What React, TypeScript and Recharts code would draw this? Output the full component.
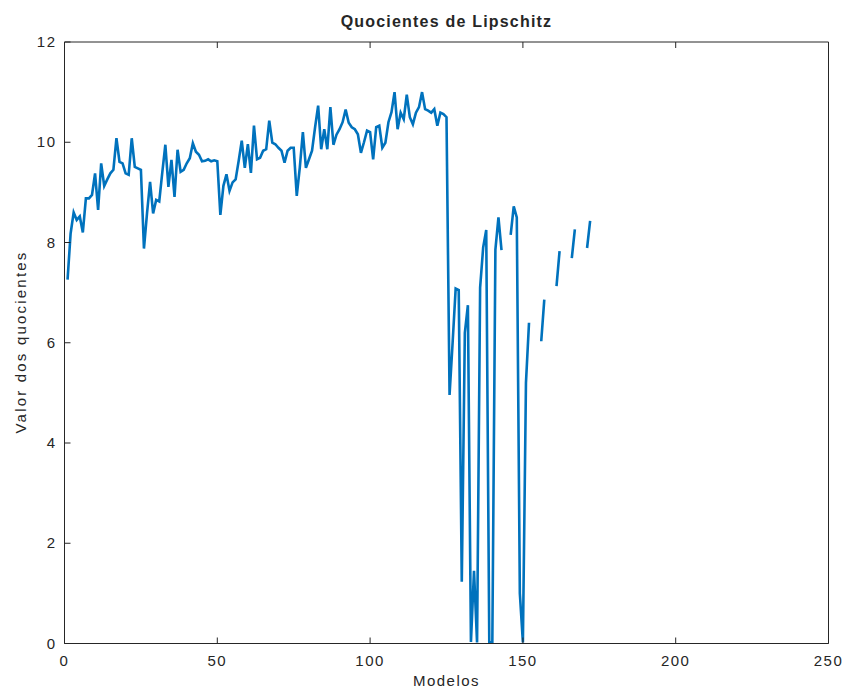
import { Line, LineChart, XAxis, YAxis } from "recharts";

// Lipschitz quotient per model (null = quotient not defined for that model)
const quotients: (number | null)[] = [
  7.26, 8.18, 8.6, 8.45, 8.52, 8.2, 8.88, 8.88, 8.95, 9.38,
  8.65, 9.58, 9.13, 9.26, 9.38, 9.45, 10.08, 9.61, 9.58, 9.38,
  9.35, 10.08, 9.51, 9.48, 9.45, 7.88, 8.58, 9.21, 8.58, 8.85,
  8.82, 9.4, 9.95, 9.11, 9.65, 8.91, 9.85, 9.41, 9.45, 9.58,
  9.68, 9.98, 9.81, 9.75, 9.62, 9.63, 9.66, 9.62, 9.64, 9.62,
  8.55, 9.13, 9.36, 9.03, 9.2, 9.26, 9.63, 10.03, 9.49, 9.96,
  9.39, 10.33, 9.66, 9.69, 9.83, 9.86, 10.43, 9.99, 9.96, 9.89,
  9.83, 9.59, 9.83, 9.89, 9.89, 8.93, 9.5, 10.2, 9.49, 9.66,
  9.83, 10.3, 10.73, 9.86, 10.26, 9.86, 10.7, 9.95, 10.15, 10.26,
  10.4, 10.65, 10.39, 10.3, 10.26, 10.16, 9.79, 10.0, 10.23, 10.2,
  9.66, 10.3, 10.33, 9.89, 9.99, 10.4, 10.6, 11.0, 10.26, 10.59,
  10.46, 10.95, 10.5, 10.36, 10.59, 10.7, 11.0, 10.66, 10.63, 10.59,
  10.66, 10.33, 10.59, 10.56, 10.5, 4.96, 6.0, 7.08, 7.05, 1.23,
  6.2, 6.75, 0.03, 1.45, 0.02, 7.1, 7.9, 8.25, 0.02, 0.03,
  7.86, 8.5, 7.85, null, null, 8.15, 8.72, 8.5, 1.0, 0.02,
  5.2, 6.4, null, null, null, 6.03, 6.86, null, null, null,
  7.13, 7.83, null, null, null, 7.69, 8.26, null, null, null,
  7.89, 8.43,
];

const xTicks = [0, 50, 100, 150, 200, 250];
const yTicks = [0, 2, 4, 6, 8, 10, 12];

const data = quotients.map((q, i) => ({ model: i + 1, q }));

const INK = "#262626";
const BLUE = "#0072BD";
const TICK = 6;
const FONT = "'Liberation Sans', Arial, Helvetica, sans-serif";

const labelStyle = {
  fontFamily: FONT,
  fontSize: 15,
  letterSpacing: 1.5,
  fill: INK,
};

// tickSize/tickMargin are 0, so x/y land exactly on the axis line
const BottomTick = ({ x, y, payload }: any) => (
  <g>
    <line x1={x} x2={x} y1={y} y2={y - TICK} stroke={INK} />
    <text x={x} y={y + 22} textAnchor="middle" style={labelStyle}>
      {payload.value}
    </text>
  </g>
);

const LeftTick = ({ x, y, payload }: any) => (
  <g>
    <line x1={x} x2={x + TICK} y1={y} y2={y} stroke={INK} />
    <text x={x - 8} y={y + 5} textAnchor="end" style={labelStyle}>
      {payload.value}
    </text>
  </g>
);

const TopTick = ({ x, y }: any) => (
  <line x1={x} x2={x} y1={y} y2={y + TICK} stroke={INK} />
);

const RightTick = ({ x, y }: any) => (
  <line x1={x} x2={x - TICK} y1={y} y2={y} stroke={INK} />
);

export default function App() {
  return (
    <div
      style={{
        position: "absolute",
        left: 0,
        top: 0,
        width: 844,
        height: 690,
        background: "#fff",
        fontFamily: FONT,
        color: INK,
      }}
    >
      <div
        style={{
          position: "absolute",
          top: 13,
          left: 64,
          width: 765,
          textAlign: "center",
          fontWeight: "bold",
          fontSize: 16,
          letterSpacing: 1.2,
        }}
      >
        Quocientes de Lipschitz
      </div>
      <div
        style={{
          position: "absolute",
          top: 672,
          left: 64,
          width: 765,
          textAlign: "center",
          fontSize: 15,
          letterSpacing: 1.5,
        }}
      >
        Modelos
      </div>
      <div
        style={{
          position: "absolute",
          left: 20,
          top: 342,
          transform: "translate(-50%, -50%) rotate(-90deg)",
          whiteSpace: "nowrap",
          fontSize: 15,
          letterSpacing: 2.2,
        }}
      >
        Valor dos quocientes
      </div>

      <LineChart
        width={844}
        height={690}
        data={data}
        margin={{ top: 32, right: 5.5, bottom: 16.5, left: 24.5 }}
      >
        <XAxis
          dataKey="model"
          type="number"
          domain={[0, 250]}
          ticks={xTicks}
          interval={0}
          height={30}
          tickSize={0}
          tickMargin={0}
          tickLine={false}
          axisLine={{ stroke: INK }}
          tick={BottomTick}
        />
        <XAxis
          xAxisId="top"
          orientation="top"
          dataKey="model"
          type="number"
          domain={[0, 250]}
          ticks={xTicks}
          interval={0}
          height={10}
          tickSize={0}
          tickMargin={0}
          tickLine={false}
          axisLine={{ stroke: INK }}
          tick={TopTick}
        />
        <YAxis
          type="number"
          domain={[0, 12]}
          ticks={yTicks}
          interval={0}
          width={40}
          tickSize={0}
          tickMargin={0}
          tickLine={false}
          axisLine={{ stroke: INK }}
          tick={LeftTick}
        />
        <YAxis
          yAxisId="right"
          orientation="right"
          type="number"
          domain={[0, 12]}
          ticks={yTicks}
          interval={0}
          width={10}
          tickSize={0}
          tickMargin={0}
          tickLine={false}
          axisLine={{ stroke: INK }}
          tick={RightTick}
        />
        <Line
          type="linear"
          dataKey="q"
          stroke={BLUE}
          strokeWidth={2.6}
          dot={false}
          activeDot={false}
          connectNulls={false}
          isAnimationActive={false}
        />
      </LineChart>
    </div>
  );
}
